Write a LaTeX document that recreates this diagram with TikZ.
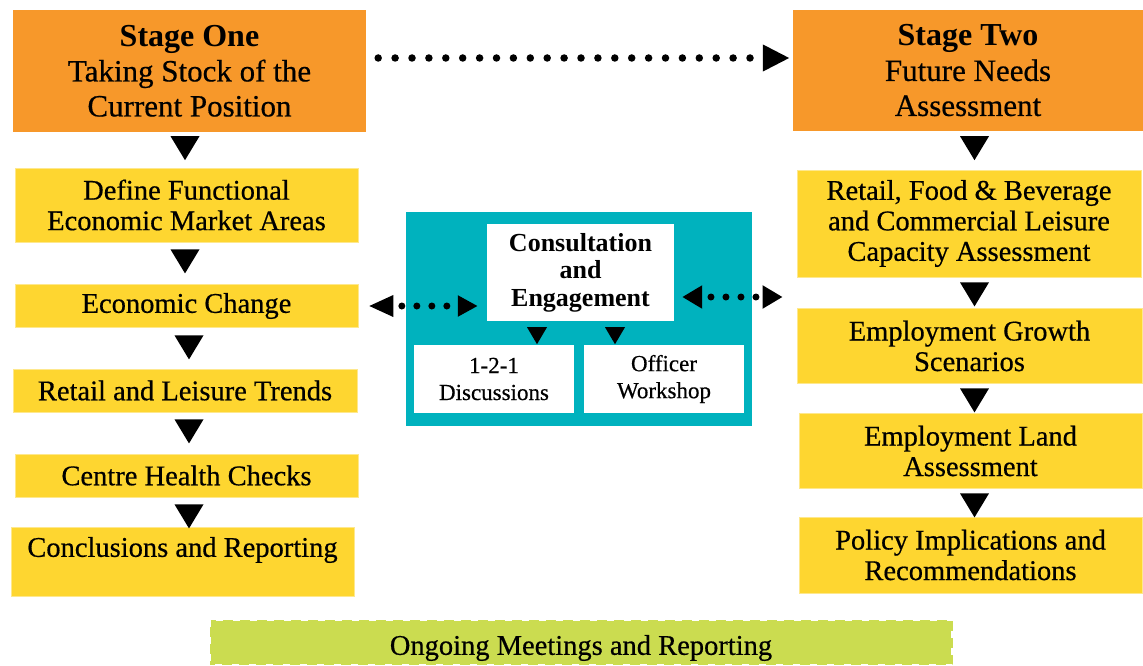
\documentclass[tikz,border=0pt]{standalone}
\usepackage{fontspec}
\setmainfont{Liberation Serif}
\newfontfamily\dkfont{Liberation Serif}[FakeBold=0.5]
\usetikzlibrary{arrows.meta,calc}
\definecolor{orng}{HTML}{F7982A}
\definecolor{ylw}{HTML}{FED630}
\definecolor{tealbg}{HTML}{00B2BE}
\definecolor{limebg}{HTML}{CBDC50}
\newcommand\dtri[3]{\fill[black] ($(#1)+(#2-14.5,#3)$) -- ++(29,0) -- ++(-14.5,24) -- cycle;}
\newcommand\stri[3]{\fill[black] ($(#1)+(#2-10,#3)$) -- ++(20,0) -- ++(-10,17) -- cycle;}
\begin{document}
\begin{tikzpicture}[x=1pt,y=-1pt,
  stagebox/.style={fill=orng, inner sep=0pt, align=center, font=\dkfont\fontsize{31}{35}\selectfont},
  ybox/.style={fill=ylw, draw=ylw!55!white, line width=0.8pt, inner sep=0pt, align=center, font=\dkfont\fontsize{28.5}{30.5}\selectfont},
  ytext/.style={inner sep=0pt, align=center, font=\dkfont\fontsize{28.5}{30.5}\selectfont},
  wbox/.style={fill=white, inner sep=0pt, align=center, font=\dkfont\fontsize{23}{27}\selectfont},
  dotline/.style={draw=black, line width=7.5pt, line cap=round, dash pattern=on 0pt off 16.9pt},
]
\useasboundingbox (0,0) rectangle (1143,666);
\fill[white] (0,0) rectangle (1143,666);

% Stage boxes
\node[stagebox, minimum width=353, minimum height=122] (s1) at (189.5,71)
  {{\normalfont\bfseries\fontsize{32}{35}\selectfont Stage One}\\Taking Stock of the\\Current Position};
\node[stagebox, minimum width=350, minimum height=121] (s2) at (968,70.5)
  {{\normalfont\bfseries\fontsize{32}{35}\selectfont Stage Two}\\Future Needs\\Assessment};

% Left column
\node[ybox, minimum width=343, minimum height=74] (def) at (186.5,205) {Define Functional\\Economic Market Areas};
\node[ybox, minimum width=343, minimum height=43] (econ) at (186.5,306) {Economic Change};
\node[ybox, minimum width=344, minimum height=43] (rlt) at (185,390.5) {Retail and Leisure Trends};
\node[ybox, minimum width=343, minimum height=43] (chc) at (186.5,475.5) {Centre Health Checks};
\node[ybox, minimum width=343, minimum height=69] (concl) at (182.5,561.5) {};
\node[ytext] (conclt) at (182.5,550) {Conclusions and Reporting};

% Right column
\node[ybox, minimum width=344, minimum height=107] (rf) at (969,223.5) {Retail, Food \& Beverage\\and Commercial Leisure\\Capacity Assessment};
\node[ybox, minimum width=345, minimum height=75] (eg) at (969.5,346) {Employment Growth\\Scenarios};
\node[ybox, minimum width=343, minimum height=75] (el) at (970.5,451) {Employment Land\\Assessment};
\node[ybox, minimum width=343, minimum height=76] (pol) at (970.5,555) {Policy Implications and\\Recommendations};

% Consultation block
\node[fill=tealbg, inner sep=0pt, minimum width=346, minimum height=214] (eng) at (579,319) {};
\node[wbox, minimum width=187, minimum height=97, font=\bfseries\fontsize{26}{27.5}\selectfont] (cons) at (580.5,272.5) {Consultation\\and\\Engagement};
\node[wbox, minimum width=160, minimum height=68] (c121) at (494,379) {1-2-1\\Discussions};
\node[wbox, minimum width=160, minimum height=68] (off) at (664,379) {Officer\\Workshop};

% Ongoing
\node[fill=limebg, inner sep=0pt, minimum width=743, minimum height=45] (ongo) at (581,642.5) {};
\draw[white, line width=2.5pt, dash pattern=on 7pt off 10pt] (ongo.north west) rectangle (ongo.south east);
\node[ytext] (ongot) at (581,648) {Ongoing Meetings and Reporting};

% Left column arrowheads
\dtri{s1.south}{-4.5}{4}
\dtri{def.south}{-1.5}{7}
\dtri{econ.south}{2.5}{7.5}
\dtri{rlt.south}{4}{7}
\dtri{chc.south}{2.5}{7}

% Right column arrowheads
\dtri{s2.south}{6.5}{5}
\dtri{rf.south}{5.5}{5}
\dtri{eg.south}{5}{4.5}
\dtri{el.south}{4}{4.5}

% Small arrowheads inside consultation block
\stri{cons.south}{-43.5}{6}
\stri{cons.south}{34.5}{6}

% Dotted connectors
\coordinate (ta) at ($(s1.east)+(12,-13)$);
\coordinate (tb) at ($(s2.west)+(-3,-12.5)$);
\draw[dotline, -{Triangle[width=25pt,length=27pt]}] (ta) -- (tb);

\draw[dotline, line width=7pt, dash pattern=on 0pt off 15pt, dash phase=5pt,
  {Triangle[width=20pt,length=25pt]}-{Triangle[width=20pt,length=20pt]}, shorten <=10pt, shorten >=9pt]
  (econ.east) -- (econ.east -| cons.west);

\coordinate (ra) at ($(cons.east)+(8,24.5)$);
\coordinate (rb) at ($(rf.west)+(-14,73.5)$);
\draw[dotline, line width=7pt, dash pattern=on 0pt off 15pt, dash phase=5pt,
  {Triangle[width=22pt,length=20pt]}-{Triangle[width=22pt,length=20pt]}] (ra) -- (rb);
\end{tikzpicture}
\end{document}
